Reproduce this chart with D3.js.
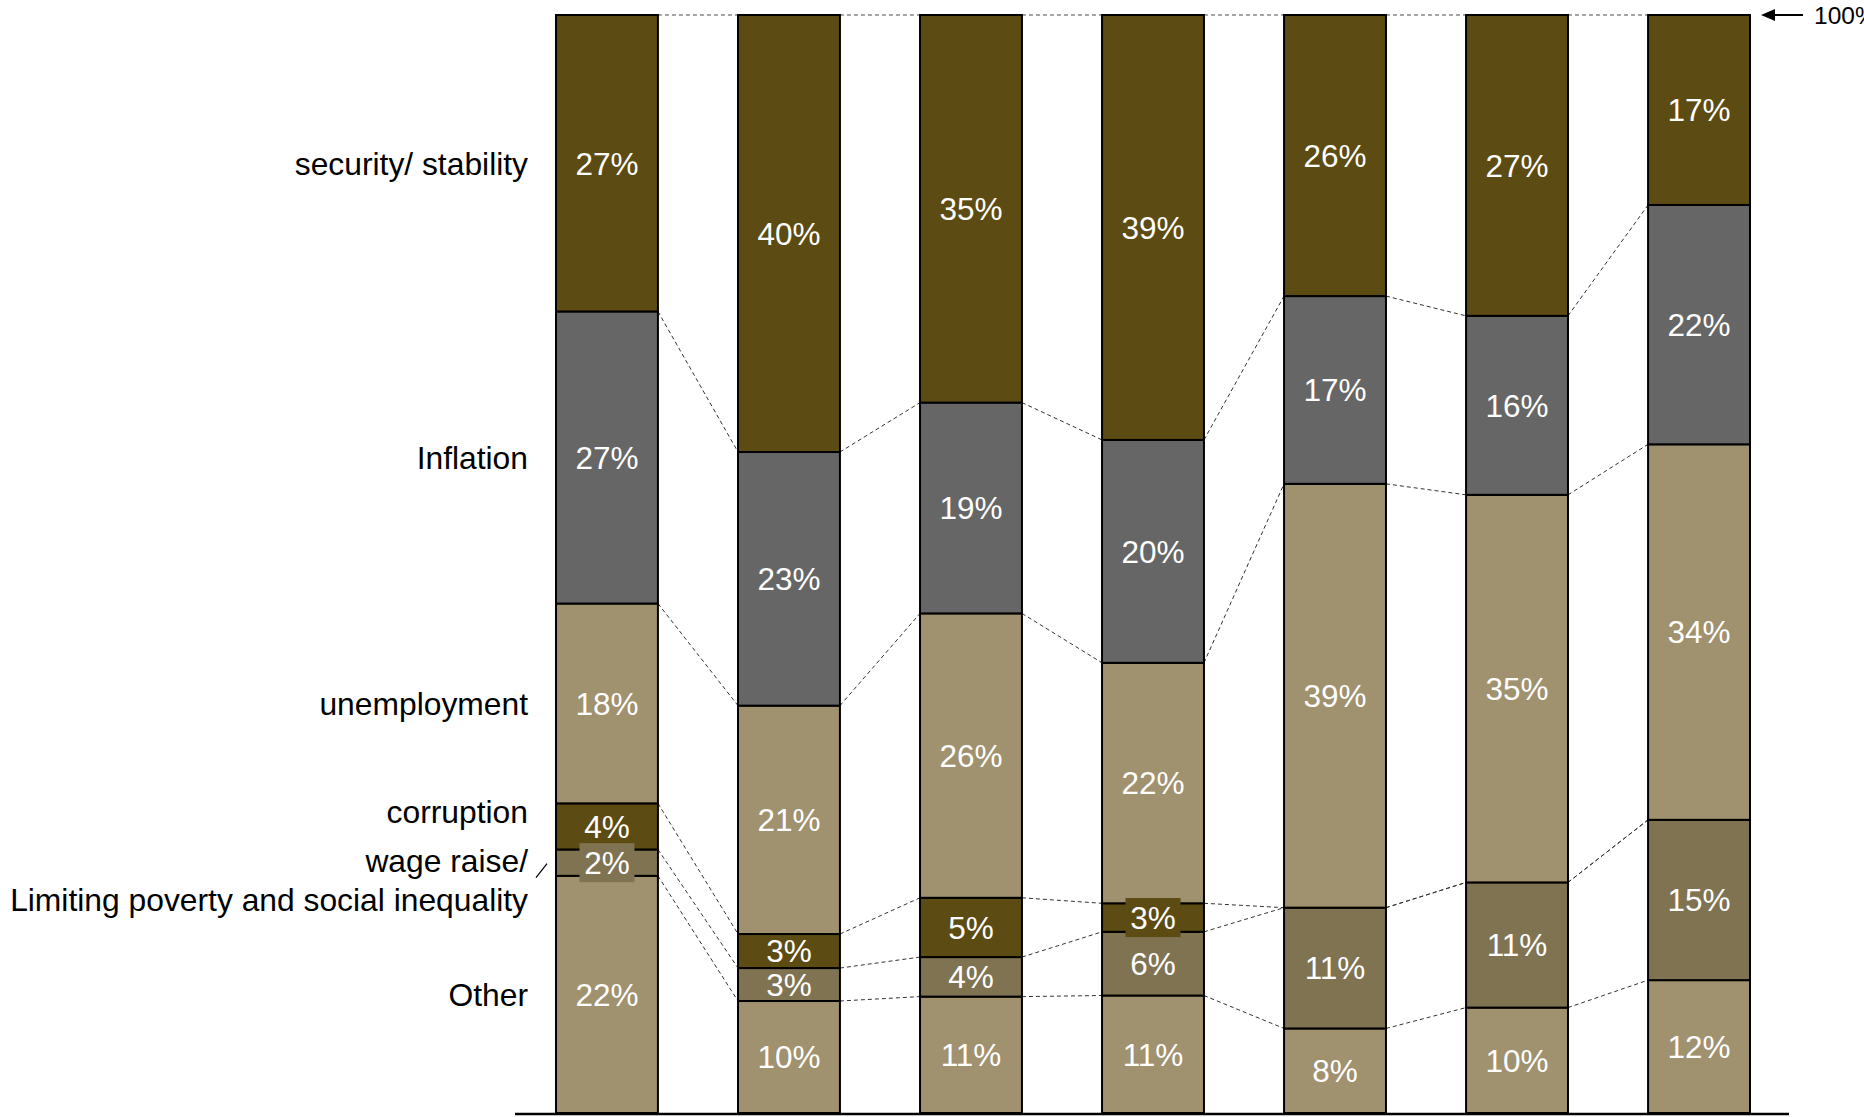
<!DOCTYPE html>
<html>
<head>
<script type="text/javascript" src="https://cdn.jsdelivr.net/npm/d3@7"></script>
<style>
body {
  margin: 0;
  padding: 0;
  background: #fff;
}
text {
  font-family: "Liberation Sans", Arial, sans-serif;
}
.seg rect {
  stroke: #000;
  stroke-width: 2px;
}
.conn line {
  stroke: #333;
  stroke-width: 1px;
  stroke-dasharray: 4, 3;
}
</style>
</head>
<body>
<svg></svg>

<script>
// survey waves (no labels shown under the bars)
var waves = ['1', '2', '3', '4', '5', '6', '7'];

// shares in %, bottom to top of each bar
var other        = [21.6, 10.2, 10.6, 10.7, 7.7, 9.6, 12.1];
var wage         = [2.4, 3.0, 3.6, 5.8, 11.0, 11.4, 14.6];
var corruption   = [4.2, 3.1, 5.4, 2.6, 0, 0, 0];
var unemployment = [18.2, 20.8, 25.9, 21.9, 38.6, 35.3, 34.2];
var inflation    = [26.6, 23.1, 19.2, 20.3, 17.1, 16.3, 21.8];
var security     = [27.0, 39.8, 35.3, 38.7, 25.6, 27.4, 17.3];

var seriesKeys = ['other', 'wage', 'corruption', 'unemployment', 'inflation', 'security'];
var seriesColors = ['#a0916f', '#7f7352', '#5c4b12', '#a0916f', '#666666', '#5c4b12'];

var width = 1864,
  height = 1117;

var svg = d3.select('svg')
  .attr('width', width)
  .attr('height', height);

var table = waves.map(function(w, i) {
  return {
    wave: w,
    other: other[i],
    wage: wage[i],
    corruption: corruption[i],
    unemployment: unemployment[i],
    inflation: inflation[i],
    security: security[i]
  };
});

var stack = d3.stack().keys(seriesKeys)(table);

var x = d3.scaleBand()
  .domain(waves)
  .range([556, 1750])
  .paddingInner(0.44)
  .paddingOuter(0);

var y = d3.scaleLinear()
  .domain([0, 100])
  .range([1113, 15]);

var color = d3.scaleOrdinal().domain(seriesKeys).range(seriesColors);
var bw = x.bandwidth();
var fmt = function(v) { return Math.round(v) + '%'; };

// dashed connectors between bars at each segment boundary
var conn = svg.append('g').attr('class', 'conn');
stack.forEach(function(layer, k) {
  for (var i = 0; i < waves.length - 1; i++) {
    conn.append('line')
      .attr('x1', x(waves[i]) + bw)
      .attr('y1', y(layer[i][1]))
      .attr('x2', x(waves[i + 1]))
      .attr('y2', y(layer[i + 1][1]))
      .style('stroke', k === seriesKeys.length - 1 ? '#888' : null)
      .style('stroke-width', k === seriesKeys.length - 1 ? '1.5px' : null);
  }
});

// segments
var seg = svg.append('g').attr('class', 'seg');
stack.forEach(function(layer) {
  seg.selectAll(null)
    .data(layer.filter(function(d) { return d[1] - d[0] > 0; }))
    .enter().append('rect')
    .attr('x', function(d) { return x(d.data.wave); })
    .attr('y', function(d) { return y(d[1]); })
    .attr('width', bw)
    .attr('height', function(d) { return y(d[0]) - y(d[1]); })
    .attr('fill', color(layer.key));
});

// value labels, small segments get a backing box
var labels = svg.append('g');
stack.forEach(function(layer) {
  layer.forEach(function(d) {
    var v = d[1] - d[0];
    if (v <= 0) return;
    var cx = x(d.data.wave) + bw / 2,
      cy = (y(d[0]) + y(d[1])) / 2;
    if (y(d[0]) - y(d[1]) < 30) {
      labels.append('rect')
        .attr('x', cx - 27.5)
        .attr('y', cy - 19.5)
        .attr('width', 55)
        .attr('height', 39)
        .attr('fill', color(layer.key));
    }
    labels.append('text')
      .attr('x', cx)
      .attr('y', cy)
      .attr('dy', '0.36em')
      .attr('text-anchor', 'middle')
      .attr('fill', '#fff')
      .style('font-size', '31.5px')
      .text(fmt(v));
  });
});

// category names next to the first bar
var first = waves[0];
function mid(key) {
  var d = stack[seriesKeys.indexOf(key)][0];
  return (y(d[0]) + y(d[1])) / 2;
}
var names = [
  { text: 'security/ stability', y: mid('security') },
  { text: 'Inflation', y: mid('inflation') },
  { text: 'unemployment', y: mid('unemployment') },
  { text: 'corruption', y: mid('corruption') - 15 },
  { text: 'wage raise/', y: mid('wage') - 2 },
  { text: 'Limiting poverty and social inequality', y: mid('wage') + 37 },
  { text: 'Other', y: mid('other') }
];
svg.append('g').selectAll('text')
  .data(names)
  .enter().append('text')
  .attr('x', x(first) - 28)
  .attr('y', function(d) { return d.y; })
  .attr('dy', '0.36em')
  .attr('text-anchor', 'end')
  .attr('fill', '#000')
  .style('font-size', '31.8px')
  .text(function(d) { return d.text; });

svg.append('line')
  .attr('x1', x(first) - 20)
  .attr('y1', mid('wage') + 15)
  .attr('x2', x(first) - 9)
  .attr('y2', mid('wage') + 1)
  .attr('stroke', '#000')
  .attr('stroke-width', 1.2);

// baseline
svg.append('line')
  .attr('x1', 515)
  .attr('x2', 1789)
  .attr('y1', y(0) + 1)
  .attr('y2', y(0) + 1)
  .attr('stroke', '#000')
  .attr('stroke-width', 2.5);

// 100% marker
var last = waves[waves.length - 1];
var ay = y(100);
var ax = x(last) + bw + 11;
svg.append('line')
  .attr('x1', ax + 10)
  .attr('x2', ax + 42)
  .attr('y1', ay)
  .attr('y2', ay)
  .attr('stroke', '#000')
  .attr('stroke-width', 2);
svg.append('path')
  .attr('d', 'M' + ax + ',' + ay + 'l14,-6l0,12z')
  .attr('fill', '#000');
svg.append('text')
  .attr('x', ax + 53)
  .attr('y', ay)
  .attr('dy', '0.36em')
  .style('font-size', '24.5px')
  .text('100%');
</script>
</body>
</html>
